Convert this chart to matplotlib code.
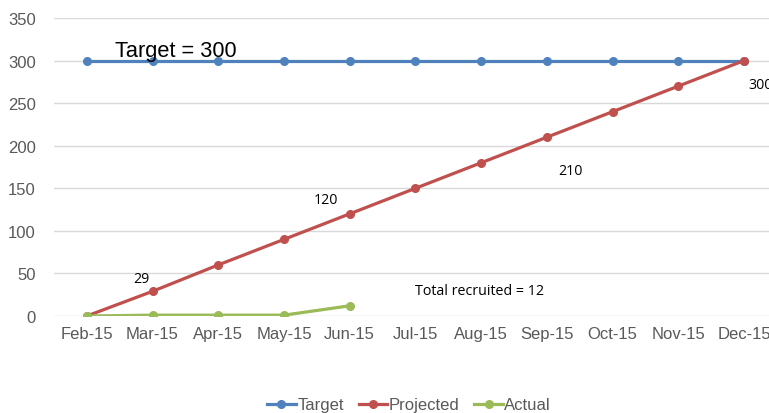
import matplotlib.pyplot as plt

months = ['Feb-15', 'Mar-15', 'Apr-15', 'May-15', 'Jun-15', 'Jul-15',
          'Aug-15', 'Sep-15', 'Oct-15', 'Nov-15', 'Dec-15']
target = [300, 300, 300, 300, 300, 300, 300, 300, 300, 300, 300]
projected = [0, 29, 60, 90, 120, 150, 180, 210, 240, 270, 300]
actual = [0, 1, 1, 1, 12]

# labels shown on the projected line: (index, offset in points)
proj_labels = [(1, (-8, 9)), (4, (-17, 10)), (7, (17, -24)), (10, (12, -17))]

plt.rcParams['font.family'] = ['Liberation Sans', 'DejaVu Sans']

fig = plt.figure(figsize=(7.69, 4.14), dpi=100)
ax = fig.add_axes([0.0702, 0.2343, 0.940, 0.7197])

x = list(range(len(months)))
ax.plot(x, target, color='#4F81BD', lw=2.3, marker='o', ms=5.5, label='Target')
ax.plot(x, projected, color='#C0504D', lw=2.3, marker='o', ms=5.5, label='Projected')
ax.plot(x[:len(actual)], actual, color='#9BBB59', lw=2.3, marker='o', ms=5.5, label='Actual')

for i, off in proj_labels:
    ax.annotate(str(projected[i]), xy=(i, projected[i]), xytext=off,
                textcoords='offset points', ha='center', va='center',
                fontsize=10.2, family=['Open Sans', 'DejaVu Sans'], color='black')

ax.text(0.43, 300, 'Target = 300', fontsize=15.7, ha='left', va='bottom', color='black')
ax.text(5.0, 30, 'Total recruited = 12', fontsize=10.3, ha='left', va='center',
        family=['Open Sans', 'DejaVu Sans'], color='black')

ax.set_xlim(-0.5, 10.5)
ax.set_ylim(0, 350)
ax.set_xticks(x)
ax.set_xticklabels(months)
ax.set_yticks(range(0, 351, 50))
ax.tick_params(length=0, labelsize=12, labelcolor='#595959', pad=7)
ax.tick_params(axis='y', pad=13)
ax.grid(axis='y', color='#d9d9d9', lw=1)
ax.set_axisbelow(True)
for s in ax.spines.values():
    s.set_visible(False)

fig.legend(loc='lower center', bbox_to_anchor=(0.532, -0.035), ncol=3, frameon=False,
           fontsize=12, labelcolor='#595959', handlelength=1.7, handletextpad=0.1,
           columnspacing=0.9)

fig.savefig('out.png', dpi=100)
